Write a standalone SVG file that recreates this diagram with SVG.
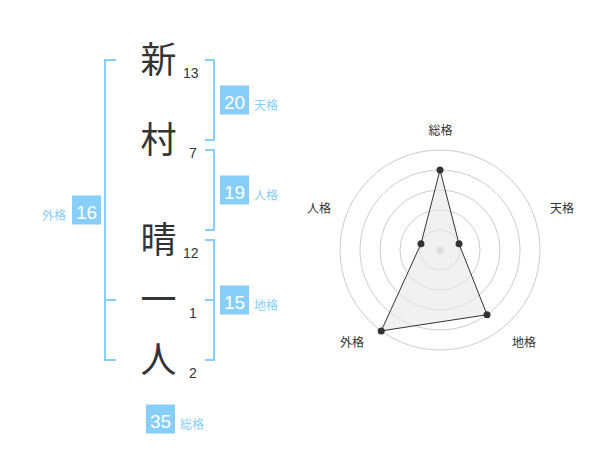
<svg xmlns="http://www.w3.org/2000/svg" width="600" height="470" viewBox="0 0 600 470">
<style>
.kanji{font-family:"Noto Sans CJK JP","Noto Sans CJK SC",sans-serif;font-size:36px;fill:#333;text-anchor:middle}
.num{font-family:"Liberation Sans",Arial,sans-serif;font-size:14px;fill:#333}
.box{fill:#87cefa}
.bnum{font-family:"Liberation Sans",Arial,sans-serif;font-size:19px;fill:#fff;text-anchor:middle}
.blab{font-family:"Noto Sans CJK JP","Noto Sans CJK SC",sans-serif;font-size:12px;fill:#87cefa}
.br{fill:none;stroke:#87cefa;stroke-width:2}
.ring{fill:none;stroke:#ccc;stroke-width:1}
.rlab{font-family:"Noto Sans CJK JP","Noto Sans CJK SC",sans-serif;font-size:12px;fill:#333;text-anchor:middle}
.dot{fill:#333}
</style>
<rect width="600" height="470" fill="#fff"/>
<g id="chars">
<g id="c1"><text class="kanji" x="158.5" y="73">新</text><text class="num" x="183" y="77.7">13</text></g>
<g id="c2"><text class="kanji" x="158.5" y="153">村</text><text class="num" x="189" y="158">7</text></g>
<g id="c3"><text class="kanji" x="158.5" y="253">晴</text><text class="num" x="183" y="257.7">12</text></g>
<g id="c4"><text class="kanji" x="158.5" y="313">一</text><text class="num" x="189" y="317.7">1</text></g>
<g id="c5"><text class="kanji" x="158.5" y="373">人</text><text class="num" x="189" y="377.5">2</text></g>
</g>
<g id="connectors">
<path class="br" d="M116,60 H105 V360 H116 M105,300 H116"/>
<path class="br" d="M205,60 H214 V140 H205"/>
<path class="br" d="M205,150 H214 V230 H205"/>
<path class="br" d="M205,240 H214 V360 H205 M205,300 H214"/>
</g>
<g id="tenkaku"><rect class="box" x="220" y="85.5" width="29" height="29"/><text class="bnum" x="234.5" y="108.5">20</text><text class="blab" x="254" y="109.5">天格</text></g>
<g id="jinkaku"><rect class="box" x="220" y="175.5" width="29" height="29"/><text class="bnum" x="234.5" y="198.5">19</text><text class="blab" x="254" y="199.5">人格</text></g>
<g id="chikaku"><rect class="box" x="220" y="285.5" width="29" height="29"/><text class="bnum" x="234.5" y="308.5">15</text><text class="blab" x="254" y="309.5">地格</text></g>
<g id="gaikaku"><rect class="box" x="72" y="195.5" width="29" height="29"/><text class="bnum" x="86.5" y="218.5">16</text><text class="blab" x="66" y="219.5" text-anchor="end">外格</text></g>
<g id="soukaku"><rect class="box" x="146" y="404.5" width="29" height="29"/><text class="bnum" x="160.5" y="427.5">35</text><text class="blab" x="180" y="428.5">総格</text></g>
<g id="radar">
<circle class="ring" cx="440" cy="250" r="20"/>
<circle class="ring" cx="440" cy="250" r="40"/>
<circle class="ring" cx="440" cy="250" r="60"/>
<circle class="ring" cx="440" cy="250" r="80"/>
<circle class="ring" cx="440" cy="250" r="100"/>
<circle cx="440" cy="250" r="3.5" fill="#ccc"/>
<polygon points="440,170 459.02,243.82 487.02,314.72 381.22,330.9 420.98,243.82" fill="#e8e8e8" fill-opacity="0.6" stroke="#333" stroke-width="1"/>
<circle class="dot" cx="440" cy="170" r="3.5"/>
<circle class="dot" cx="459.02" cy="243.82" r="3.5"/>
<circle class="dot" cx="487.02" cy="314.72" r="3.5"/>
<circle class="dot" cx="381.22" cy="330.9" r="3.5"/>
<circle class="dot" cx="420.98" cy="243.82" r="3.5"/>
<text class="rlab" x="440.5" y="135">総格</text>
<text class="rlab" x="562" y="213">天格</text>
<text class="rlab" x="319" y="213">人格</text>
<text class="rlab" x="524" y="347">地格</text>
<text class="rlab" x="352" y="347">外格</text>
</g>
</svg>
